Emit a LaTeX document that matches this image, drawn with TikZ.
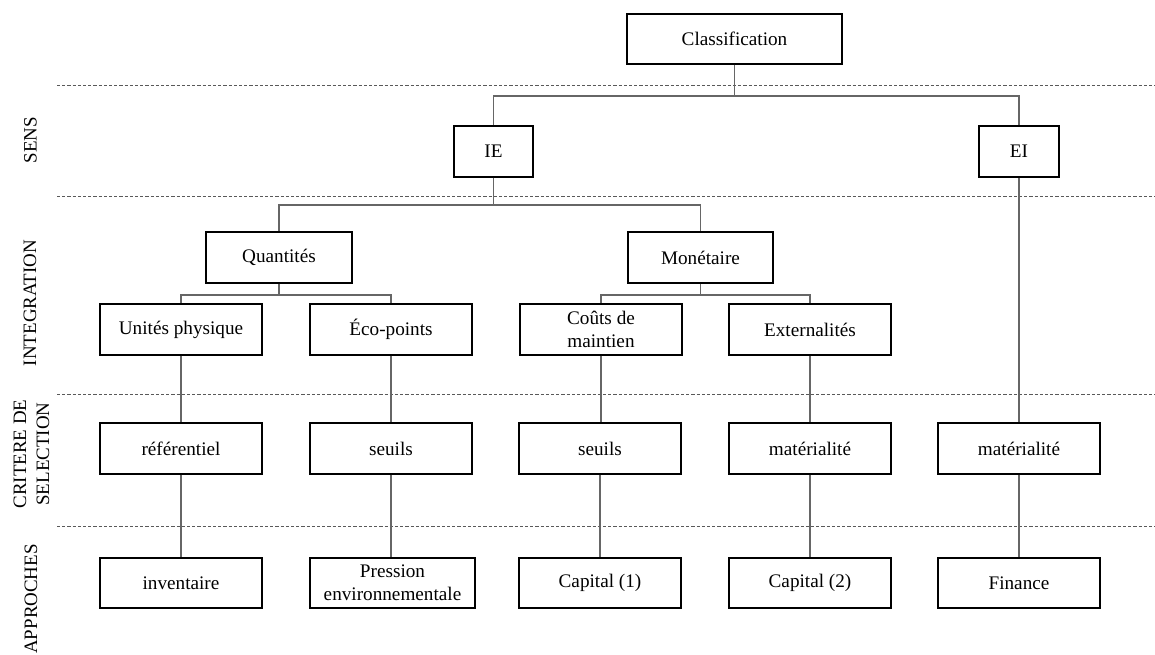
\documentclass[tikz,border=0pt]{standalone}
\usepackage{fontspec}
\setmainfont{Liberation Serif}
\begin{document}
\begin{tikzpicture}[x=0.75pt,y=-0.75pt,
  box/.style={draw=black,line width=1.1pt,rectangle,inner sep=0pt,
    minimum height=51*0.75pt,align=center,font=\fontsize{14.4}{17.3}\selectfont},
  wbox/.style={box,minimum width=162*0.75pt},
  link/.style={draw=black!60,line width=0.8pt},
  sep/.style={draw=black!65,line width=0.7pt,dash pattern=on 2.4pt off 1.5pt},
  side/.style={rotate=90,align=center,inner sep=0pt,font=\fontsize{14.2}{17.3}\selectfont}]
\useasboundingbox (0,0) rectangle (1155,655);

% separators
\foreach \yy/\nm in {85/a,196/b,394/c,526/d}{
  \coordinate (s\nm l) at (57,\yy);
  \coordinate (s\nm r) at (1155,\yy);
  \draw[sep] (s\nm l) -- (s\nm r);
}

% side labels
\node[side] (lsens) at (30.5,140) {SENS};
\node[side] (lint) at (30,303) {INTEGRATION};
\node[side] (lcrit) at (31.5,454) {CRITERE DE\\SELECTION};
\node[side] (lapp) at (31,599) {APPROCHES};

% nodes
\node[box,minimum width=215*0.75pt,minimum height=50*0.75pt] (cls) at (734.5,39) {Classification};
\node[box,minimum width=79*0.75pt] (ie) at (493.5,151.5) {IE};
\node[box,minimum width=80*0.75pt] (ei) at (1019,151.5) {EI};
\node[box,minimum width=146*0.75pt] (qt) at (279,257.5) {Quantités};
\node[box,minimum width=145*0.75pt] (mo) at (700.5,257.5) {Monétaire};

\node[wbox] (up) at (181,329.5) {Unités physique};
\node[wbox] (ep) at (391,329.5) {Éco-points};
\node[wbox] (cm) at (601,329.5) {Coûts de\\maintien};
\node[wbox] (ex) at (810,329.5) {Externalités};

\node[wbox] (ref) at (181,448.5) {référentiel};
\node[wbox] (se1) at (391,448.5) {seuils};
\node[wbox] (se2) at (600,448.5) {seuils};
\node[wbox] (ma1) at (810,448.5) {matérialité};
\node[wbox] (ma2) at (1019,448.5) {matérialité};

\node[wbox,minimum height=50*0.75pt] (inv) at (181,583) {inventaire};
\node[box,minimum width=165*0.75pt,minimum height=50*0.75pt] (pe) at (392.5,583) {Pression\\environnementale};
\node[wbox,minimum height=50*0.75pt] (ca1) at (600,583) {Capital (1)};
\node[wbox,minimum height=50*0.75pt] (ca2) at (810,583) {Capital (2)};
\node[wbox,minimum height=50*0.75pt] (fi) at (1019,583) {Finance};

% tree connectors
\draw[link] (cls.south) -- (cls.south |- 0,96) -| (ie.north);
\draw[link] (cls.south |- 0,96) -| (ei.north);
\draw[link] (ie.south) -- (ie.south |- 0,205) -| (qt.north);
\draw[link] (ie.south |- 0,205) -| (mo.north);
\draw[link] (qt.south) -- (qt.south |- 0,295) -| (up.north);
\draw[link] (qt.south |- 0,295) -| (ep.north);
\draw[link] (mo.south) -- (mo.south |- 0,295) -| (cm.north);
\draw[link] (mo.south |- 0,295) -| (ex.north);

% vertical chains
\draw[link] (up.south) -- (ref.north);
\draw[link] (ref.south) -- (inv.north);
\draw[link] (ep.south) -- (se1.north);
\draw[link] (se1.south) -- (pe.north -| se1.south);
\draw[link] (cm.south) -- (cm.south |- se2.north);
\draw[link] (se2.south) -- (ca1.north);
\draw[link] (ex.south) -- (ma1.north);
\draw[link] (ma1.south) -- (ca2.north);
\draw[link] (ei.south) -- (ma2.north);
\draw[link] (ma2.south) -- (fi.north);
\end{tikzpicture}
\end{document}
